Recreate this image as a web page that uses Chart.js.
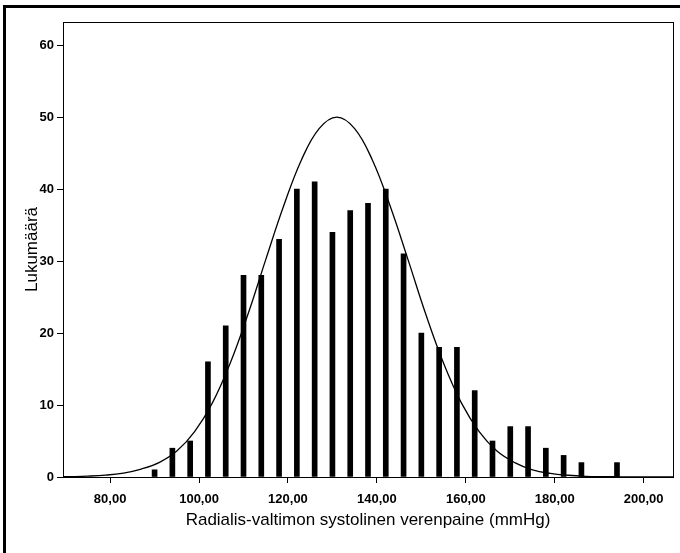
<!DOCTYPE html>
<html>
<head>
<meta charset="utf-8">
<script src="https://cdn.jsdelivr.net/npm/chart.js@4/dist/chart.umd.min.js"></script>
<style>
html,body{margin:0;padding:0;background:#fff;}
#wrap{width:680px;height:553px;position:relative;}
</style>
</head>
<body>
<div id="wrap"><canvas id="c" width="680" height="553"></canvas></div>
<script>
// Histogram bins (bin centres, mmHg) and counts
const binCentres = [90, 94, 98, 102, 106, 110, 114, 118, 122, 126, 130, 134, 138, 142, 146, 150, 154, 158, 162, 166, 170, 174, 178, 182, 186, 190, 194];
const binCounts  = [1, 4, 5, 16, 21, 28, 28, 33, 40, 41, 34, 37, 38, 40, 31, 20, 18, 18, 12, 5, 7, 7, 4, 3, 2, 0, 2];

// Normal curve
const curveX = [69, 71, 75, 79, 83, 87, 91, 95, 99, 103, 107, 111, 115, 119, 123, 127, 131, 135, 139, 143, 147, 151, 155, 159, 163, 167, 171, 175, 179, 183, 187, 191, 195, 199, 203, 207];
const curveY = [0.03, 0.05, 0.12, 0.26, 0.55, 1.1, 2.0, 3.6, 6.3, 10.3, 15.8, 22.6, 30.2, 37.6, 44.0, 48.4, 50, 48.4, 44.0, 37.6, 30.2, 22.6, 15.8, 10.3, 6.3, 3.6, 2.0, 1.0, 0.5, 0.24, 0.1, 0.05, 0.02, 0.01, 0, 0];

const xTicks = [80, 100, 120, 140, 160, 180, 200];
const xTickLabels = ['80,00', '100,00', '120,00', '140,00', '160,00', '180,00', '200,00'];
const yTicks = [0, 10, 20, 30, 40, 50, 60];

const xTitle = 'Radialis-valtimon systolinen verenpaine (mmHg)';
const yTitle = 'Lukumäärä';

const frame = {
  id: 'frame',
  afterDraw(chart) {
    const ctx = chart.ctx, a = chart.chartArea;
    ctx.save();
    ctx.strokeStyle = '#000';
    ctx.lineWidth = 1;
    ctx.strokeRect(Math.round(a.left) + 0.5, Math.round(a.top) + 0.5, Math.round(a.right - a.left), Math.round(a.bottom - a.top));
    ctx.lineWidth = 3;
    ctx.beginPath();
    ctx.moveTo(4.5, 553); ctx.lineTo(4.5, 6.5); ctx.lineTo(680, 6.5);
    ctx.stroke();
    ctx.restore();
  }
};

const tickFont = {family: '"Liberation Sans Narrow", "Liberation Sans", Arial, sans-serif', size: 13, weight: 'bold'};
const titleFont = {family: '"Liberation Sans", Arial, sans-serif', size: 17};

new Chart(document.getElementById('c'), {
  type: 'bar',
  data: {
    datasets: [
      {
        type: 'line',
        data: curveX.map((x, i) => ({x: x, y: curveY[i]})),
        borderColor: '#000',
        borderWidth: 1.3,
        pointRadius: 0,
        tension: 0.4,
        fill: false,
        order: 0
      },
      {
        type: 'bar',
        data: binCentres.map((x, i) => ({x: x, y: binCounts[i]})),
        backgroundColor: '#000',
        borderWidth: 0,
        barThickness: 5,
        grouped: false,
        order: 1
      }
    ]
  },
  options: {
    responsive: false,
    animation: false,
    events: [],
    layout: {padding: {top: 22, right: 7, left: 22, bottom: 22}},
    plugins: {legend: {display: false}, tooltip: {enabled: false}},
    scales: {
      x: {
        type: 'linear',
        offset: false,
        min: 69.4,
        max: 206.6,
        afterBuildTicks: s => { s.ticks = xTicks.map(v => ({value: v})); },
        afterFit: s => { s.height = 54; },
        ticks: {
          color: '#000',
          font: tickFont,
          padding: 9,
          maxRotation: 0,
          autoSkip: false,
          callback: v => xTickLabels[xTicks.indexOf(v)]
        },
        grid: {display: true, offset: false, drawOnChartArea: false, drawTicks: true, tickLength: 6, color: '#000', lineWidth: 1},
        border: {display: true, color: '#000', width: 1},
        title: {display: true, text: xTitle, color: '#000', font: titleFont, padding: {top: 4, bottom: 0}}
      },
      y: {
        type: 'linear',
        min: 0,
        max: 63.2,
        afterBuildTicks: s => { s.ticks = yTicks.map(v => ({value: v})); },
        afterFit: s => { s.width = 41; },
        ticks: {color: '#000', font: tickFont, padding: 3},
        grid: {display: true, drawOnChartArea: false, drawTicks: true, tickLength: 6, color: '#000', lineWidth: 1},
        border: {display: true, color: '#000', width: 1},
        title: {display: true, text: yTitle, color: '#000', font: titleFont, padding: {top: 0, bottom: 4}}
      }
    }
  },
  plugins: [frame]
});
</script>
</body>
</html>
